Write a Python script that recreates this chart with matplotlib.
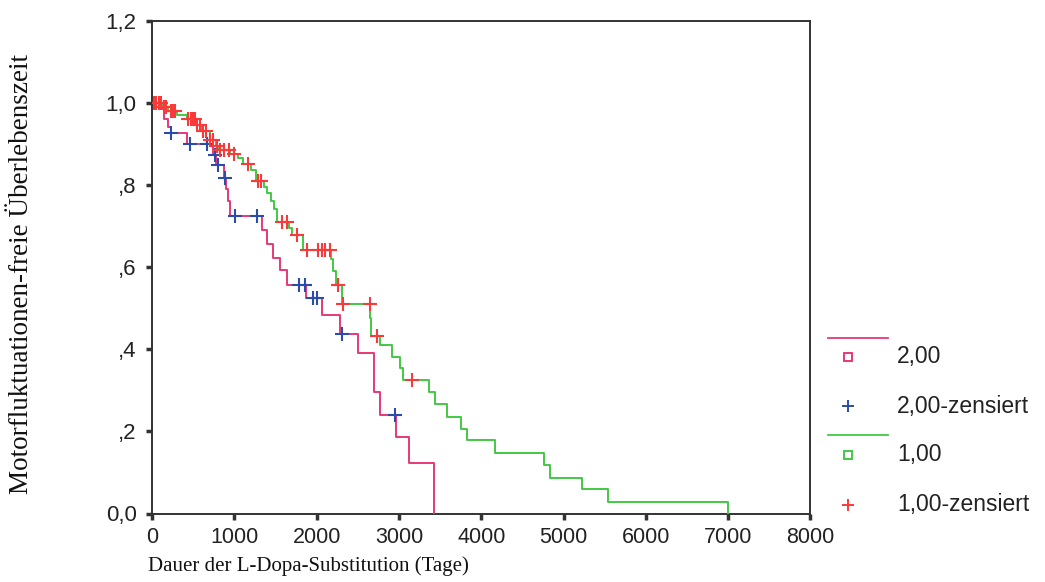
import numpy as np
import matplotlib
matplotlib.use("Agg")
import matplotlib.pyplot as plt
from matplotlib.lines import Line2D

# ---------------- data ----------------
# group 2,00 (pink curve, blue censor marks)
g2_times = [0, 110, 150, 200, 225, 420, 740, 780, 880, 905, 925, 950, 1333, 1393,
            1474, 1555, 1637, 1870, 2066, 2280, 2500, 2700, 2770, 2960, 3127, 3430]
g2_surv = [1.0, 0.985, 0.96, 0.94, 0.925, 0.90, 0.872, 0.848, 0.816, 0.79, 0.76,
           0.724, 0.69, 0.657, 0.621, 0.592, 0.556, 0.524, 0.483, 0.438, 0.390,
           0.296, 0.240, 0.185, 0.122, 0.0]
g2_cens = [231, 462, 664, 765, 800, 887, 1008, 1272, 1790, 1859, 1960, 2000, 2309, 2952]

# group 1,00 (green curve, red censor marks)
g1_times = [0, 120, 200, 300, 420, 530, 600, 700, 780, 800, 950, 1050, 1100, 1200,
            1260, 1360, 1400, 1440, 1480, 1515, 1660, 1700, 1830, 2175, 2200, 2230,
            2305, 2650, 2665, 2770, 2912, 3013, 3054, 3370, 3439, 3588, 3755, 3824,
            4168, 4763, 4836, 5221, 5545, 7003]
g1_surv = [1.0, 0.99, 0.98, 0.97, 0.96, 0.945, 0.93, 0.91, 0.895, 0.885, 0.875,
           0.865, 0.85, 0.835, 0.81, 0.795, 0.78, 0.76, 0.74, 0.71, 0.695, 0.678,
           0.641, 0.62, 0.59, 0.556, 0.511, 0.475, 0.432, 0.41, 0.382, 0.353, 0.325,
           0.296, 0.266, 0.234, 0.205, 0.179, 0.148, 0.118, 0.087, 0.059, 0.027, 0.0]
g1_cens = [20, 50, 80, 110, 140, 170, 230, 260, 280, 440, 470, 500, 520, 550, 580,
           620, 660, 710, 740, 790, 830, 880, 940, 1000, 1170, 1290, 1330, 1576, 1637,
           1758, 1880, 2021, 2062, 2102, 2163, 2264, 2325, 2649, 2730, 3155]

x_ticks = [0, 1000, 2000, 3000, 4000, 5000, 6000, 7000, 8000]
x_ticklabels = ["0", "1000", "2000", "3000", "4000", "5000", "6000", "7000", "8000"]
y_ticks = [0.0, 0.2, 0.4, 0.6, 0.8, 1.0, 1.2]
y_ticklabels = ["0,0", ",2", ",4", ",6", ",8", "1,0", "1,2"]

legend_labels = ["2,00", "2,00-zensiert", "1,00", "1,00-zensiert"]
x_label = "Dauer der L-Dopa-Substitution (Tage)"
y_label = "Motorfluktuationen-freie Überlebenszeit"

# ---------------- style ----------------
PINK = "#e83878"
GREEN = "#44c844"
BLUE = "#2b4ca8"
RED = "#f83a3a"
AXC = "#333333"
SANS = ["Liberation Sans", "DejaVu Sans"]
SERIF = ["Liberation Serif", "DejaVu Serif"]


def surv_at(times, surv, t):
    idx = np.searchsorted(np.asarray(times), np.asarray(t), side="right") - 1
    return np.asarray(surv)[idx]


W, H = 1045, 582
fig = plt.figure(figsize=(W / 100, H / 100), dpi=100)
fig.patch.set_facecolor("white")
ax = fig.add_axes([152 / W, 1 - 513.5 / H, (810.5 - 152) / W, (513.5 - 20.5) / H])

ax.step(g2_times, g2_surv, where="post", color=PINK, lw=1.4, zorder=3)
ax.step(g1_times, g1_surv, where="post", color=GREEN, lw=1.4, zorder=3)

ax.plot(g2_cens, surv_at(g2_times, g2_surv, g2_cens), ls="none", marker="+",
        ms=10, mew=1.5, color=BLUE, zorder=4)
ax.plot(g1_cens, surv_at(g1_times, g1_surv, g1_cens), ls="none", marker="+",
        ms=10, mew=1.5, color=RED, zorder=4)

ax.set_xlim(0, 8000)
ax.set_ylim(0, 1.2)
ax.set_xticks(x_ticks)
ax.set_xticklabels(x_ticklabels, family=SANS, fontsize=15.5, color="#222222")
ax.set_yticks(y_ticks)
ax.set_yticklabels(y_ticklabels, family=SANS, fontsize=16, color="#222222")
ax.tick_params(axis="both", direction="out", length=4, width=2.5, color=AXC)
ax.tick_params(axis="x", pad=6)
ax.tick_params(axis="y", pad=7)
for s in ax.spines.values():
    s.set_color(AXC)
    s.set_linewidth(1.4)

fig.text(148 / W, 1 - 566 / H, x_label, family=SERIF, fontsize=15,
         ha="left", va="center", color="#111111")
fig.text(22 / W, 1 - 274 / H, y_label, family=SERIF, fontsize=19.5,
         rotation=90, ha="center", va="center", color="#111111")

# ---------------- legend (drawn in figure pixels) ----------------
def fx(px):
    return px / W


def fy(py):
    return 1 - py / H


fig.add_artist(Line2D([fx(828), fx(888)], [fy(338), fy(338)], color=PINK, lw=1.3,
                      transform=fig.transFigure))
fig.add_artist(Line2D([fx(848)], [fy(357)], marker="s", ms=6, mfc="none", mec=PINK,
                      mew=1.4, ls="none", transform=fig.transFigure))
fig.add_artist(Line2D([fx(848)], [fy(406)], marker="+", ms=9, mew=1.4, color=BLUE,
                      ls="none", transform=fig.transFigure))
fig.add_artist(Line2D([fx(828), fx(888)], [fy(435), fy(435)], color=GREEN, lw=1.3,
                      transform=fig.transFigure))
fig.add_artist(Line2D([fx(848)], [fy(455)], marker="s", ms=6, mfc="none", mec=GREEN,
                      mew=1.4, ls="none", transform=fig.transFigure))
fig.add_artist(Line2D([fx(848)], [fy(505)], marker="+", ms=9, mew=1.4, color=RED,
                      ls="none", transform=fig.transFigure))
for lab, py in zip(legend_labels, [357, 406, 455, 505]):
    fig.text(fx(897), fy(py), lab, family=SANS, fontsize=16.5, ha="left", va="center",
             color="#222222")

fig.savefig("out.png", dpi=100, facecolor="white")
